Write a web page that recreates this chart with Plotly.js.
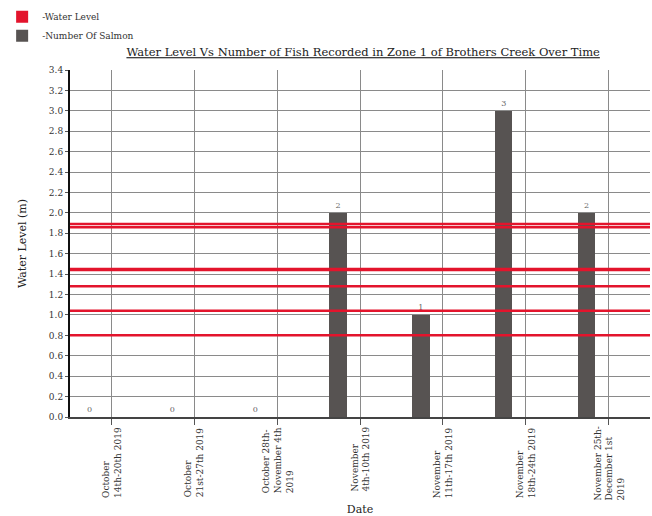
<!DOCTYPE html>
<html>
<head>
<meta charset="utf-8">
<script src="https://cdn.plot.ly/plotly-3.0.1.min.js"></script>
<style>html,body{margin:0;padding:0;background:#fff;}#chart{width:652px;height:516px;}</style>
</head>
<body>
<div id="chart"></div>
<script>
// ---- data ----
var categories = [
  "October<br>14th-20th 2019",
  "October<br>21st-27th 2019",
  "October 28th-<br>November 4th<br>2019",
  "November<br>4th-10th 2019",
  "November<br>11th-17th 2019",
  "November<br>18th-24th 2019",
  "November 25th-<br>December 1st<br>2019"
];
var salmonCounts = [0, 0, 0, 2, 1, 3, 2];
var waterLevels = [1.89, 1.86, 1.45, 1.44, 1.28, 1.04, 0.80];
var yTickVals = [0,0.2,0.4,0.6,0.8,1.0,1.2,1.4,1.6,1.8,2.0,2.2,2.4,2.6,2.8,3.0,3.2,3.4];
var yTickText = yTickVals.map(function(v){return v.toFixed(1);});
var chartTitle = "Water Level Vs Number of Fish Recorded in Zone 1 of Brothers Creek Over Time";

var FONT = "DejaVu Serif, Liberation Serif, serif";
var RED = "#e3142c";
var DARK = "#575352";

// water level lines spanning the full width (hidden overlay axis)
var wlX = [], wlY = [];
waterLevels.forEach(function(v){ wlX.push(0, 1, null); wlY.push(v, v, null); });

var traces = [
  {type:"bar", x:[null], y:[null], xaxis:"x2", yaxis:"y", name:"-Water Level",
   marker:{color:RED}, hoverinfo:"skip"},
  {type:"bar", x:categories, y:salmonCounts, name:"-Number Of Salmon",
   marker:{color:DARK}, offset:-0.37, width:0.21,
   text:salmonCounts.map(String), textposition:"outside", cliponaxis:false,
   textfont:{family:FONT, size:8, color:"#666"}},
  {type:"scatter", mode:"lines", x:wlX, y:wlY, xaxis:"x2", yaxis:"y",
   line:{color:RED, width:2.5}, connectgaps:false, showlegend:false, hoverinfo:"skip"}
];

var annotations = categories.map(function(c){
  return {xref:"x", yref:"paper", x:c, y:0, yshift:-8, text:c, showarrow:false,
    textangle:-90, xanchor:"center", yanchor:"top", align:"left",
    font:{family:FONT, size:9, color:"#333"}};
});

var layout = {
  width:652, height:516,
  margin:{l:65, r:2, t:70, b:99, pad:0},
  paper_bgcolor:"#fff", plot_bgcolor:"#fff",
  font:{family:FONT, size:9, color:"#333"},
  bargap:0,
  title:{text:"<u>"+chartTitle+"</u>", x:0.557, xanchor:"center", y:0.899, yanchor:"middle",
    font:{family:FONT, size:11.5, color:"#222"}},
  showlegend:true,
  legend:{x:-0.117, xanchor:"left", y:1.195, yanchor:"top", orientation:"v",
    font:{family:FONT, size:9, color:"#333"}, bgcolor:"rgba(0,0,0,0)", tracegroupgap:0},
  xaxis:{type:"category", range:[-0.5, 6.5], showticklabels:false,
    showgrid:true, gridcolor:"#8a8a8a", gridwidth:1,
    ticks:"outside", ticklen:6, tickcolor:"#555",
    showline:true, linecolor:"#444", linewidth:1.5, zeroline:false,
    title:{text:"Date", font:{family:FONT, size:11, color:"#222"}, standoff:82}},
  xaxis2:{overlaying:"x", anchor:"y", range:[0,1], visible:false, fixedrange:true},
  yaxis:{range:[0,3.4], tickvals:yTickVals, ticktext:yTickText,
    showgrid:true, gridcolor:"#8a8a8a", gridwidth:1, zeroline:false,
    ticks:"outside", ticklen:3, tickcolor:"#555",
    showline:true, linecolor:"#111", linewidth:2,
    tickfont:{family:FONT, size:9, color:"#333"},
    title:{text:"Water Level (m)", font:{family:FONT, size:11, color:"#222"}, standoff:20}},
  annotations:annotations
};

Plotly.newPlot("chart", traces, layout, {displayModeBar:false, staticPlot:true});
</script>
</body>
</html>
